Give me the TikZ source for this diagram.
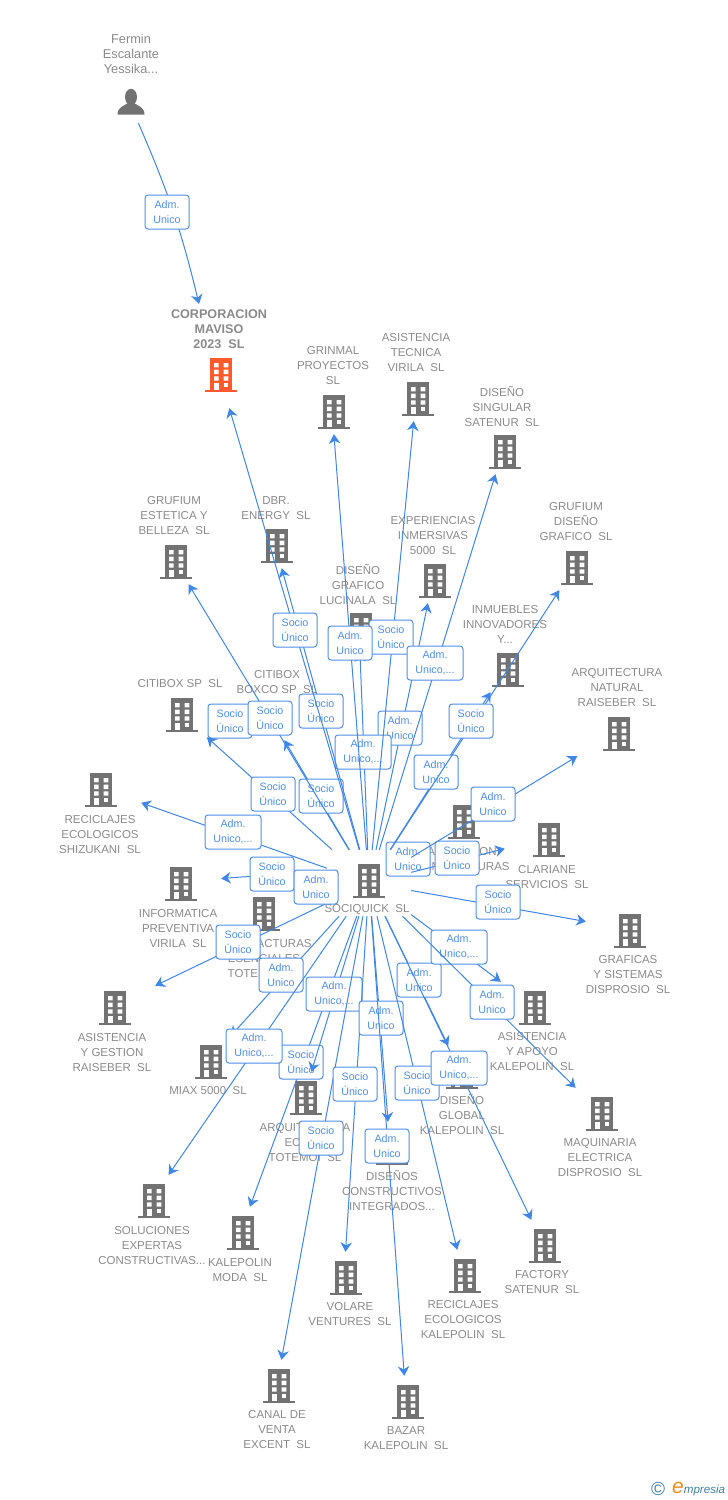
\documentclass[tikz,border=0pt]{standalone}
\usepackage{fontspec}
\setmainfont{Liberation Sans}
\usepackage{tikz}
\usetikzlibrary{arrows.meta, positioning, calc}
\definecolor{linkblue}{HTML}{3F86E6}
\definecolor{boxblue}{HTML}{4F8FE8}
\definecolor{iconreal}{HTML}{727272}
\definecolor{iconmain}{HTML}{FF5A2B}
\definecolor{labelgrey}{HTML}{8A8A8A}
\definecolor{logoteal}{HTML}{3F7F9C}
\definecolor{logogold}{HTML}{F28A1E}

\newcommand{\buildingicon}[1]{%
  \fill[#1] (-9,-15) rectangle (13,17);
  \fill[#1] (-14,17) rectangle (18,18.8);
  \foreach \rowy in {-10,-3.3,3.3}
    \fill[white] (-5,\rowy) rectangle +(4.6,4.4) (4.7,\rowy) rectangle +(4.6,4.4);
  \fill[white] (4.7,10) rectangle +(4.6,4.2);
  \fill[white] (-5,9.6) rectangle (-0.4,17);}

\tikzset{
  company/.style={rectangle, inner sep=0pt, minimum width=84pt, minimum height=48pt,
    xshift=-2pt, yshift=2pt, path picture={\buildingicon{iconreal}}},
  maincompany/.style={company, minimum height=70pt, path picture={\buildingicon{iconmain}}},
  hubcompany/.style={rectangle, inner sep=0pt, minimum width=84pt, minimum height=66pt},
  person/.style={rectangle, inner sep=0pt, minimum width=50pt, minimum height=46pt,
    xshift=-3pt, path picture={
      \fill[iconreal] (3,-3) ellipse (6 and 8.2);
      \fill[iconreal] (-10.5,14.5) .. controls (-10.5,7) and (-4,6) .. (0,3)
        -- (6,3) .. controls (10,6) and (16.5,7) .. (16.5,14.5) -- cycle;}},
  firmname/.style={text=labelgrey, align=center, inner sep=0pt,
    font=\fontsize{11.5}{15}\selectfont},
  boldname/.style={firmname, font=\fontsize{12.6}{15}\selectfont\bfseries},
  bigname/.style={firmname, font=\fontsize{12.8}{15}\selectfont},
  role/.style={draw=boxblue, line width=1pt, fill=white, rounded corners=3pt, align=center,
    text=boxblue, inner sep=0pt, minimum width=44pt, minimum height=34pt,
    font=\fontsize{10.7}{15}\selectfont},
  rolewide/.style={role, minimum width=56pt},
  link/.style={draw=linkblue, line width=1pt, -{Stealth[length=9.5pt, width=11.5pt, inset=3pt]}},
}

\begin{document}
\begin{tikzpicture}[x=1pt, y=-1pt]
  \useasboundingbox (0,0) rectangle (728,1500);

  % Owner and main company
  \node[bigname] (ferminname) at (131,54) {Fermin\\Escalante\\Yessika...};
  \node[person] (fermin) at (131,100) {};
  \node[boldname] (corporacionname) at (219,329) {CORPORACION\\MAVISO\\2023~~SL};
  \node[maincompany] (corporacion) at (221,375) {};
  \coordinate (corporaciontip) at (199,304);

  % Companies, top half
  \node[firmname] (grinmalname) at (333,366) {GRINMAL\\PROYECTOS\\SL};
  \node[company] (grinmal) at (334,412) {};
  \node[firmname] (tecnicaname) at (416,353) {ASISTENCIA\\TECNICA\\VIRILA~~SL};
  \node[company] (tecnica) at (418,399) {};
  \node[firmname] (singularname) at (502,406) {DISEÑO\\SINGULAR\\SATENUR~~SL};
  \node[company] (singular) at (505,452) {};
  \node[firmname] (esteticaname) at (174,516) {GRUFIUM\\ESTETICA Y\\BELLEZA~~SL};
  \node[company] (estetica) at (176,562) {};
  \node[firmname] (dbrname) at (276,508) {DBR.\\ENERGY~~SL};
  \node[company] (dbr) at (277,546) {};
  \node[firmname] (experienciasname) at (433,536) {EXPERIENCIAS\\INMERSIVAS\\5000~~SL};
  \node[company] (experiencias) at (435,581) {};
  \node[firmname] (lucinalaname) at (358,584) {DISEÑO\\GRAFICO\\LUCINALA~~SL};
  \node[company] (lucinala) at (361,630) {};
  \node[firmname] (disenoname) at (576,522) {GRUFIUM\\DISEÑO\\GRAFICO~~SL};
  \node[company] (diseno) at (577,568) {};
  \node[firmname] (inmueblesname) at (505,624) {INMUEBLES\\INNOVADORES\\Y...};
  \node[company] (inmuebles) at (508,670) {};
  \node[firmname] (naturalname) at (617,688) {ARQUITECTURA\\NATURAL\\RAISEBER~~SL};
  \node[company] (natural) at (619,734) {};
  \node[firmname] (citiboxname) at (180,684) {CITIBOX SP~~SL};
  \node[company] (citibox) at (182,715) {};
  \node[firmname] (boxconame) at (277,682) {CITIBOX\\BOXCO SP~~SL};
  \node[company] (boxco) at (272,718) {};
  \node[firmname] (shizukaniname) at (100,835) {RECICLAJES\\ECOLOGICOS\\SHIZUKANI~~SL};
  \node[company] (shizukani) at (101,790) {};
  \node[company] (activacion) at (464,822) {};
  \node[firmname] (activacionname) at (462,859) {ACTIVACION\\MANUFACTURAS\hspace{8pt}};
  \node[company] (clariane) at (549,840) {};
  \node[firmname] (clarianename) at (547,877) {CLARIANE\\SERVICIOS~~SL};

  % Companies, bottom half
  \node[company] (informatica) at (181,884) {};
  \node[firmname] (informaticaname) at (178,929) {INFORMATICA\\PREVENTIVA\\VIRILA~~SL};
  \node[company] (esenciales) at (264,914) {};
  \node[firmname] (esencialesname) at (264,959) {MANUFACTURAS\\ESENCIALES\\TOTEMOI~~SL};
  \node[company] (graficas) at (630,931) {};
  \node[firmname] (graficasname) at (628,975) {GRAFICAS\\Y SISTEMAS\\DISPROSIO~~SL};
  \node[company] (apoyo) at (535,1008) {};
  \node[firmname] (apoyoname) at (532,1052) {ASISTENCIA\\Y APOYO\\KALEPOLIN~~SL};
  \node[company] (gestion) at (115,1008) {};
  \node[firmname] (gestionname) at (112,1053) {ASISTENCIA\\Y GESTION\\RAISEBER~~SL};
  \node[company] (miax) at (211,1062) {};
  \node[firmname] (miaxname) at (208,1091) {MIAX 5000~~SL};
  \node[company] (ecol) at (306,1098) {};
  \node[firmname] (ecolname) at (305,1143) {ARQUITECTURA\\ECOL...\\TOTEMOI~~SL};
  \node[company] (global) at (462,1072) {};
  \node[firmname] (globalname) at (462,1114) {DISEÑO\\GLOBAL\\KALEPOLIN~~SL};
  \node[company] (maquinaria) at (602,1114) {};
  \node[firmname] (maquinarianame) at (600,1158) {MAQUINARIA\\ELECTRICA\\DISPROSIO~~SL};
  \node[company] (constructivos) at (392,1148) {};
  \node[firmname] (constructivosname) at (392,1190) {DISEÑOS\\CONSTRUCTIVOS\\INTEGRADOS...};
  \node[company] (soluciones) at (154,1201) {};
  \node[firmname] (solucionesname) at (152,1246) {SOLUCIONES\\EXPERTAS\\CONSTRUCTIVAS...};
  \node[company] (moda) at (243,1233) {};
  \node[firmname] (modaname) at (240,1270) {KALEPOLIN\\MODA~~SL};
  \node[company] (factory) at (545,1246) {};
  \node[firmname] (factoryname) at (542,1282) {FACTORY\\SATENUR~~SL};
  \node[company] (volare) at (346,1278) {};
  \node[firmname] (volarename) at (350,1314) {VOLARE\\VENTURES~~SL};
  \node[company] (reciclajes) at (465,1276) {};
  \node[firmname] (reciclajesname) at (463,1320) {RECICLAJES\\ECOLOGICOS\\KALEPOLIN~~SL};
  \node[company] (canal) at (279,1386) {};
  \node[firmname] (canalname) at (277,1430) {CANAL DE\\VENTA\\EXCENT~~SL};
  \node[company] (bazar) at (408,1402) {};
  \node[firmname] (bazarname) at (406,1438) {BAZAR\\KALEPOLIN~~SL};

  % Central company
  \node[company] (sociquickicon) at (369,881) {};
  \node[hubcompany] (sociquick) at (369,883) {};
  \node[firmname] (sociquickname) at (367,910) {SOCIQUICK~~SL};

  % Fermin to the main company
  \draw[link] (fermin) to[bend left=5] (corporaciontip);
  \node[role] (roleowner) at (167,212) {Adm.\\Unico};

  % Links, left side
  \draw[link] (boxco) -- (citibox);
  \node[role] (roleb) at (230,721) {Socio\\Único};
  \draw[link] (sociquick) -- (boxco);
  \node[role] (rolebx) at (321,796) {Socio\\Único};
  \draw[link] (sociquick) -- (citibox);
  \node[role] (rolec) at (273,794) {Socio\\Único};
  \draw[link] (sociquick) -- (estetica);
  \node[role] (rolee) at (270,718) {Socio\\Único};
  \draw[link] (sociquick) -- (shizukani);
  \node[rolewide] (roles) at (233,832) {Adm.\\Unico,...};
  \draw[link] (sociquick) to[bend right=5] (informatica);
  \node[role] (rolei) at (272,874) {Socio\\Único};
  \draw[link] (sociquick) -- (gestion);
  \node[role] (roleg) at (238,942) {Socio\\Único};
  \draw[link] (sociquick) -- (esenciales);
  \node[role] (rolem) at (316,887) {Adm.\\Unico};
  \draw[link] (sociquick) -- (miax);
  \node[role] (rolex) at (281,975) {Adm.\\Unico};
  \draw[link] (sociquick) -- (moda);
  \node[role] (rolemo) at (301,1062) {Socio\\Único};
  \draw[link] (sociquick) -- (soluciones);
  \node[rolewide] (rolesl) at (254,1046) {Adm.\\Unico,...};
  \draw[link] (sociquick) -- (ecol);
  \node[rolewide] (rolear) at (334,994) {Adm.\\Unico,...};
  \draw[link] (sociquick) -- (canal);
  \node[role] (roleca) at (321,1138) {Socio\\Único};
  \draw[link] (sociquick) -- (volare);
  \node[role] (rolev) at (355,1084) {Socio\\Único};

  % Links, bottom and right side
  \draw[link] (sociquick) -- (constructivos);
  \node[role] (rolecn) at (381,1018) {Adm.\\Unico};
  \draw[link] (sociquick) -- (bazar);
  \node[role] (roleba) at (387,1146) {Adm.\\Unico};
  \draw[link] (sociquick) -- (reciclajes);
  \node[role] (rolere) at (417,1083) {Socio\\Único};
  \draw[link] (sociquick) -- (global);
  \node[role] (rolegl) at (419,980) {Adm.\\Unico};
  \draw[link] (sociquick) -- (factory);
  \node[rolewide] (rolefa) at (459,1068) {Adm.\\Unico,...};
  \draw[link] (sociquick) -- (activacion);
  \node[role] (roleac) at (408,859) {Adm.\\Unico};
  \draw[link] (sociquick) -- (clariane);
  \node[role] (rolecl) at (457,858) {Socio\\Único};
  \draw[link] (sociquick) -- (graficas);
  \node[role] (rolegr) at (498,902) {Socio\\Único};
  \draw[link] (sociquick) -- (apoyo);
  \node[rolewide] (roleap) at (459,947) {Adm.\\Unico,...};
  \draw[link] (sociquick) -- (maquinaria);
  \node[role] (rolema) at (492,1002) {Adm.\\Unico};
  \draw[link] (sociquick) -- (natural);
  \node[role] (rolena) at (493,804) {Adm.\\Unico};

  % Links, top
  \draw[link] (sociquick) -- (inmuebles);
  \node[role] (rolein) at (436,772) {Adm.\\Unico};
  \draw[link] (sociquick) -- (diseno);
  \node[role] (roledi) at (471,721) {Socio\\Único};
  \draw[link] (sociquick) -- (experiencias);
  \node[role] (roleex) at (400,728) {Adm.\\Unico};
  \draw[link] (sociquick) -- (lucinala);
  \node[rolewide] (rolelu) at (363,752) {Adm.\\Unico,...};
  \draw[link] (sociquick) -- (tecnica);
  \node[role] (rolete) at (391,637) {Socio\\Único};
  \draw[link] (sociquick) -- (grinmal);
  \node[role] (rolegm) at (350,643) {Adm.\\Unico};
  \draw[link] (sociquick) -- (singular);
  \node[rolewide] (rolesi) at (435,663) {Adm.\\Unico,...};
  \draw[link] (sociquick) -- (dbr);
  \node[role] (roledb) at (321,711) {Socio\\Único};
  \draw[link] (sociquick) -- (corporacion);
  \node[role] (roleco) at (295,630) {Socio\\Único};

  % Logo
  \node[inner sep=0pt, text=logoteal, font=\fontsize{19}{19}\selectfont] (logosign) at (658,1489) {©};
  \node[inner sep=0pt, anchor=base west, text=logoteal, font=\fontsize{11.6}{12}\selectfont\itshape]
    (logotext) at (672,1493) {\textcolor{logogold}{\fontsize{21}{21}\selectfont e}mpresia};
\end{tikzpicture}
\end{document}
